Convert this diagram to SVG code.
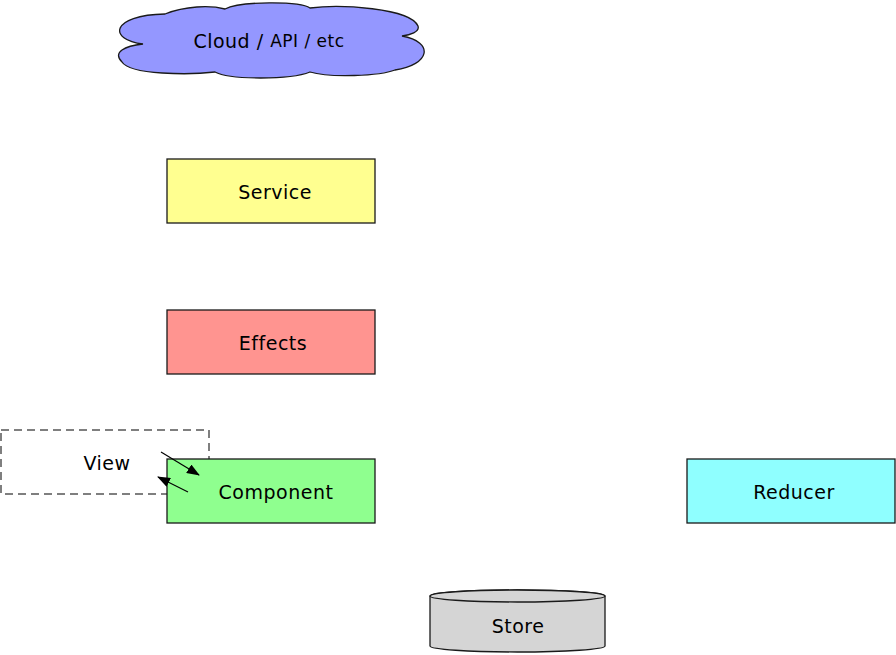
<svg xmlns="http://www.w3.org/2000/svg" width="896" height="655" viewBox="0 0 896 655">
<defs>
<style>
.lbl{font-family:"DejaVu Sans","Liberation Sans",sans-serif;font-size:19px;letter-spacing:0.5px;fill:#000;text-anchor:middle;dominant-baseline:central}
.box{stroke:#1a1a1a;stroke-width:1.3}
.conn{stroke:#000;stroke-width:1.2;fill:none}
</style>
<marker id="ah" markerWidth="13" markerHeight="10" refX="12" refY="5" orient="auto" markerUnits="userSpaceOnUse">
<path d="M0,0 L13,5 L0,10 Z" fill="#000"/>
</marker>
</defs>
<rect width="896" height="655" fill="#fff"/>
<g id="cloud">
<path class="box" fill="#9497ff" d="M143,44 C108,40 110,15 165,14 C185,6 210,5 225,9 C240,1 300,1 310,8 C340,4 410,8 418,26 C420,32 410,35 402,36 C435,42 430,65 395,70 C380,76 330,78 310,72 C290,80 230,80 215,72 C190,75 130,75 122,62 C112,52 125,46 143,44 Z"/>
<text class="lbl" x="269" y="41"><tspan>Cloud / </tspan><tspan font-size="17px">API / etc</tspan></text>
</g>
<g id="service">
<rect class="box" x="167" y="159" width="208" height="64" fill="#ffff90"/>
<text class="lbl" x="275" y="192">Service</text>
</g>
<g id="effects">
<rect class="box" x="167" y="310" width="208" height="64" fill="#ff9490"/>
<text class="lbl" x="273" y="343">Effects</text>
</g>
<g id="view">
<rect x="1" y="430" width="208" height="64" fill="none" stroke="#555" stroke-width="1.5" stroke-dasharray="8,5"/>
<text class="lbl" x="107" y="463">View</text>
</g>
<g id="component">
<rect class="box" x="167" y="459" width="208" height="64" fill="#8fff8f"/>
<text class="lbl" x="276" y="492">Component</text>
</g>
<g id="reducer">
<rect class="box" x="687" y="459" width="208" height="64" fill="#8fffff"/>
<text class="lbl" x="794" y="492">Reducer</text>
</g>
<g id="store">
<path class="box" fill="#d5d5d5" d="M430,596 L430,646 A87.5,6 0 0 0 605,646 L605,596 A87.5,6 0 0 0 430,596 Z"/>
<ellipse class="box" cx="517.5" cy="596" rx="87.5" ry="6" fill="#d5d5d5"/>
<text class="lbl" x="518" y="626">Store</text>
</g>
<g id="connectors">
<line class="conn" x1="161" y1="452" x2="199" y2="475" marker-end="url(#ah)"/>
<line class="conn" x1="188" y1="492" x2="158" y2="477" marker-end="url(#ah)"/>
</g>
</svg>
